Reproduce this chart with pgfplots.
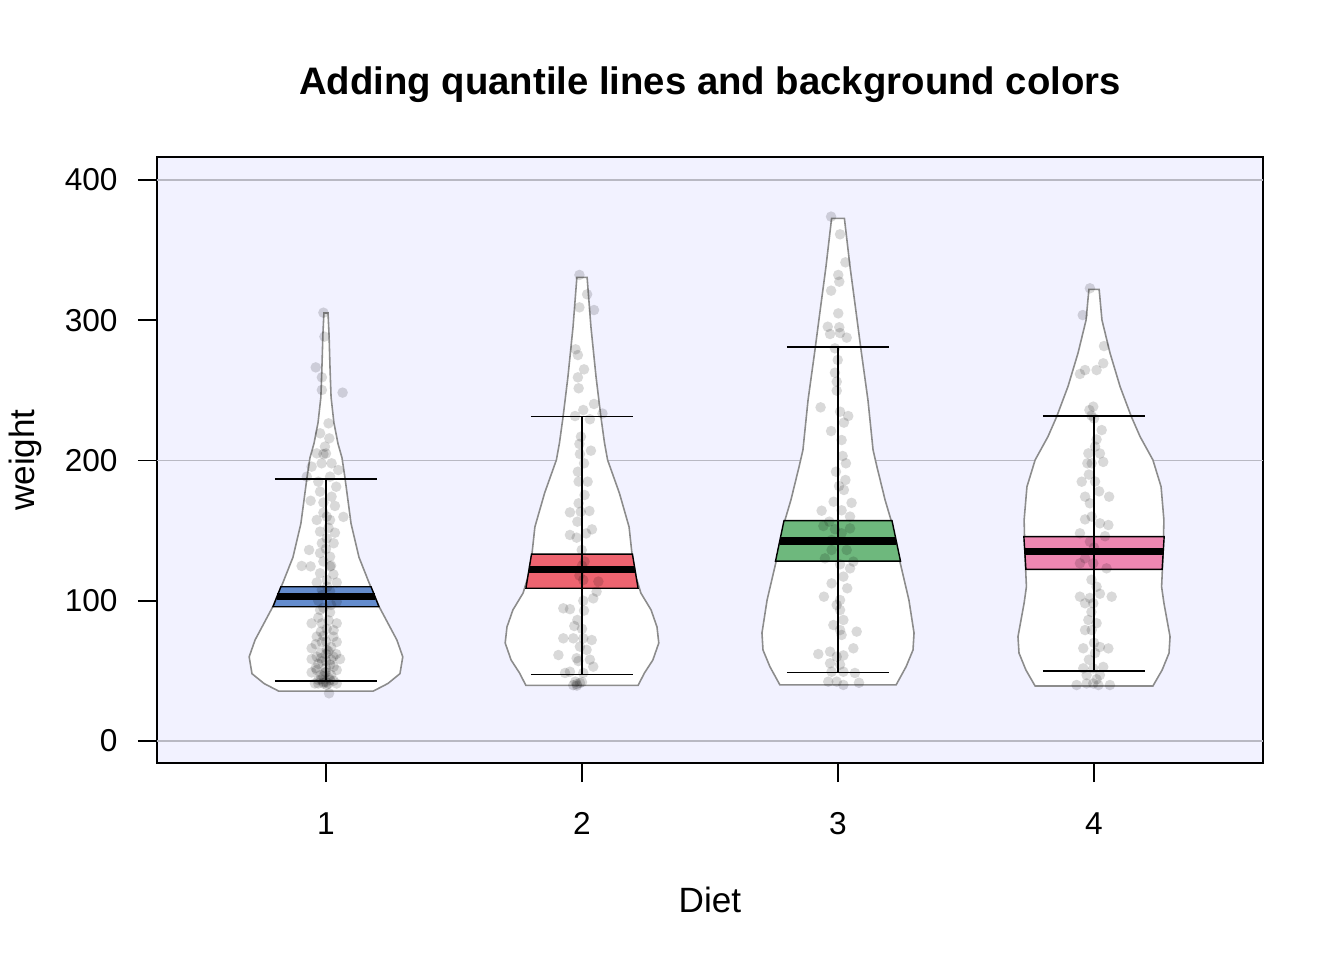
\documentclass[border=0pt]{standalone}
\usepackage{fontspec}
\setmainfont{Liberation Sans}
\usepackage{pgfplots}
\pgfplotsset{compat=1.18}
\definecolor{bgcol}{RGB}{242,242,255}
\definecolor{gridc}{RGB}{185,185,195}
\definecolor{vline}{RGB}{140,140,140}
\definecolor{qblue}{RGB}{100,140,205}
\definecolor{qred}{RGB}{238,100,112}
\definecolor{qgreen}{RGB}{110,184,125}
\definecolor{qpink}{RGB}{238,135,178}

\begin{document}
\begin{tikzpicture}
\useasboundingbox (-1.57cm,-1.97cm) rectangle (11.87cm,7.63cm);
\begin{axis}[
    scale only axis,
    width=11.06cm, height=6.06cm,
    xmin=0.34, xmax=4.66,
    ymin=-15.7, ymax=416.4,
    xtick={1,2,3,4}, ytick={0,100,200,300,400},
    xtick pos=bottom, ytick pos=left,
    tick align=outside, major tick length=0.19cm,
    tick style={black, line width=0.5pt},
    axis line style={black, line width=0.5pt},
    axis background/.style={fill=bgcol},
    /pgf/number format/assume math mode=true,
    ticklabel style={font=\fontsize{9}{10.8}\selectfont},
    xticklabel style={yshift=-0.18cm},
    yticklabel style={xshift=-0.08cm},
    label style={font=\fontsize{9}{10.8}\selectfont},
    xlabel={Diet}, ylabel={weight},
    every axis x label/.style={at={(axis description cs:0.5,-0.226)}, anchor=center},
    every axis y label/.style={at={(axis description cs:-0.119,0.5)}, rotate=90, anchor=center},
    title={Adding quantile lines and background colors},
    every axis title/.style={at={(axis description cs:0.5,1.120)}, anchor=center,
                 font=\fontsize{10.9}{13}\selectfont\bfseries},
  ]

  %% grid lines
  \addplot[gridc, line width=0.4pt] coordinates {(0.34,0) (4.66,0)};
  \addplot[gridc, line width=0.4pt] coordinates {(0.34,200) (4.66,200)};
  \addplot[gridc, line width=0.4pt] coordinates {(0.34,400) (4.66,400)};

  %% violins
  \addplot[fill=white, draw=vline, line width=0.45pt] coordinates {
    (1.008,305.2) (1.012,290) (1.016,265) (1.020,245) (1.031,227) (1.047,212)
    (1.0625,202) (1.074,188) (1.098,155) (1.129,131) (1.168,113) (1.207,96)
    (1.242,84) (1.277,72) (1.300,60) (1.289,48) (1.242,41) (1.184,35.5)
    (0.816,35.5) (0.758,41) (0.711,48) (0.700,60) (0.723,72) (0.758,84)
    (0.793,96) (0.832,113) (0.871,131) (0.902,155) (0.926,188) (0.9375,202)
    (0.953,212) (0.969,227) (0.980,245) (0.984,265) (0.988,290) (0.992,305.2)
  } -- cycle;
  \addplot[fill=white, draw=vline, line width=0.45pt] coordinates {
    (2.020,330.6) (2.035,295.2) (2.055,259.5) (2.074,231) (2.088,212.5) (2.100,200.4)
    (2.146,176.8) (2.184,152.6) (2.195,134) (2.211,117) (2.230,105.5) (2.270,93.4)
    (2.293,81.3) (2.300,69.9) (2.277,57.8) (2.244,48.5) (2.219,39.6)
    (1.781,39.6) (1.756,48.5) (1.723,57.8) (1.700,69.9) (1.707,81.3) (1.730,93.4)
    (1.770,105.5) (1.789,117) (1.805,134) (1.816,152.6) (1.854,176.8) (1.900,200.4)
    (1.912,212.5) (1.926,231) (1.945,259.5) (1.965,295.2) (1.980,330.6)
  } -- cycle;
  \addplot[fill=white, draw=vline, line width=0.45pt] coordinates {
    (3.025,372.7) (3.047,338.2) (3.073,302.5) (3.090,278.8) (3.117,243.1) (3.137,207.5)
    (3.152,195.6) (3.184,171.8) (3.207,157.6) (3.242,127.8) (3.277,100.5) (3.297,77)
    (3.293,64.9) (3.266,53) (3.227,40)
    (2.773,40) (2.734,53) (2.707,64.9) (2.703,77) (2.723,100.5) (2.758,127.8)
    (2.793,157.6) (2.816,171.8) (2.848,195.6) (2.863,207.5) (2.883,243.1) (2.910,278.8)
    (2.927,302.5) (2.953,338.2) (2.975,372.7)
  } -- cycle;
  \addplot[fill=white, draw=vline, line width=0.45pt] coordinates {
    (4.020,322) (4.031,300.2) (4.0625,276.6) (4.102,252.6) (4.146,231.2) (4.180,217)
    (4.230,200.4) (4.262,181.3) (4.273,157.6) (4.270,134) (4.264,110) (4.273,98.4)
    (4.297,74.4) (4.293,62.7) (4.266,50.6) (4.230,39.2)
    (3.770,39.2) (3.734,50.6) (3.707,62.7) (3.703,74.4) (3.727,98.4) (3.736,110)
    (3.730,134) (3.727,157.6) (3.738,181.3) (3.770,200.4) (3.820,217) (3.854,231.2)
    (3.898,252.6) (3.9375,276.6) (3.969,300.2) (3.980,322)
  } -- cycle;

  %% quantile boxes
  \addplot[fill=qblue, draw=black, line width=0.4pt] coordinates {
    (0.824,110) (1.176,110) (1.207,95.7) (0.793,95.7)} -- cycle;
  \addplot[fill=qred, draw=black, line width=0.4pt] coordinates {
    (1.803,133.3) (2.197,133.3) (2.219,108.9) (1.781,108.9)} -- cycle;
  \addplot[fill=qgreen, draw=black, line width=0.4pt] coordinates {
    (2.789,157.1) (3.211,157.1) (3.244,128.3) (2.756,128.3)} -- cycle;
  \addplot[fill=qpink, draw=black, line width=0.4pt] coordinates {
    (3.726,145.7) (4.274,145.7) (4.266,122.4) (3.734,122.4)} -- cycle;

  %% medians
  \addplot[black, line width=2pt] coordinates {(0.808,102.7) (1.192,102.7)};
  \addplot[black, line width=2pt] coordinates {(1.792,122.6) (2.208,122.6)};
  \addplot[black, line width=2pt] coordinates {(2.773,142.6) (3.227,142.6)};
  \addplot[black, line width=2pt] coordinates {(3.730,135) (4.270,135)};

  %% whiskers
  \addplot[black, line width=0.4pt] coordinates {(1,42.8) (1,186.8)};
  \addplot[black, line width=0.4pt] coordinates {(0.8,186.8) (1.2,186.8)};
  \addplot[black, line width=0.4pt] coordinates {(0.8,42.8) (1.2,42.8)};
  \addplot[black, line width=0.4pt] coordinates {(2,47.5) (2,231.3)};
  \addplot[black, line width=0.4pt] coordinates {(1.8,231.3) (2.2,231.3)};
  \addplot[black, line width=0.4pt] coordinates {(1.8,47.5) (2.2,47.5)};
  \addplot[black, line width=0.4pt] coordinates {(3,48.7) (3,280.9)};
  \addplot[black, line width=0.4pt] coordinates {(2.8,280.9) (3.2,280.9)};
  \addplot[black, line width=0.4pt] coordinates {(2.8,48.7) (3.2,48.7)};
  \addplot[black, line width=0.4pt] coordinates {(4,49.9) (4,231.7)};
  \addplot[black, line width=0.4pt] coordinates {(3.8,231.7) (4.2,231.7)};
  \addplot[black, line width=0.4pt] coordinates {(3.8,49.9) (4.2,49.9)};

  %% jittered points
  \pgfplotsset{pts/.style={only marks, mark=*, mark size=1.5pt, black,
      mark options={fill=black, draw opacity=0, fill opacity=0.15}}}
  \addplot[pts] table {
x y
0.99 305.4
0.994 288.3
0.96 266.4
0.984 259.3
0.984 250.3
1.065 248.4
1.01 226.5
0.977 219.4
1.013 215.8
0.996 209.9
0.964 205.1
0.99 204.6
1.022 198
0.983 198
0.944 195.6
1.048 193.2
1.016 188.5
0.925 188.5
0.97 184.9
1.04 181.3
0.977 177.8
1.022 174.2
0.94 171.3
1.035 167.6
0.99 162.8
1.003 160
0.964 157.6
1.068 159.8
1.016 157.6
0.977 149.3
1.035 148.5
1.003 144.5
0.984 141
1.03 141
0.934 136.2
0.977 134
1.016 131.4
0.905 124.8
0.94 124.5
1.016 124.5
0.977 119.6
1.029 118.8
1.003 114.8
0.964 113
1.042 113
0.984 107.7
1.016 106.9
1.042 99.3
0.977 93.4
1.016 91.8
0.944 83.9
0.984 83.9
1.042 83.9
1.003 80
0.964 74.4
1.029 74.4
0.984 70.6
1.042 70.6
0.944 66.1
1.003 65
0.964 60.1
1.029 60.1
1.055 58.4
0.944 58.4
0.984 56.8
1.016 54.4
0.964 50.6
1.042 50.6
0.996 48.9
0.944 48.9
0.97 43.5
1.016 43.5
0.99 42
1.042 41
0.957 41
1.003 40
1.012 34
0.99 95
1.02 97
0.97 88
1.01 86
0.98 78
1.03 79
0.96 69
1.00 71
1.02 67
0.98 63
1.04 62
0.97 55
1.00 57
1.03 53
0.96 52
0.99 46
1.02 47
0.98 44
1.01 45
0.97 41
1.00 42
1.03 43
0.99 41
1.01 41
0.98 47
1.00 52
1.00 62
0.99 75
1.01 64
0.98 59
1.02 58
1.00 49
0.985 104
1.005 110
0.97 100
1.02 125
0.99 128
1.00 137
1.01 152
0.99 170
1.00 205
  };
  \addplot[pts] table {
x y
1.99 332.3
2.02 318.5
2.047 307.3
1.99 309.2
1.975 279.3
1.984 275.2
2.008 265
1.984 259.3
1.987 251.5
2.047 240.3
2.005 236
1.973 231.7
2.031 229.4
2.08 233.5
1.996 217
1.99 211.8
2.035 207
1.992 204.6
2.008 198
1.984 192
2.022 184.9
1.987 185
2.01 175.4
1.987 169.5
1.953 163
1.995 163.5
2.029 164
1.982 156.4
2.039 150.9
1.953 146.9
1.979 145
2.016 148
1.999 136.2
2.005 114.8
2.064 113.7
2.057 106.5
2.044 101.7
2.005 100
1.927 94.6
1.953 94
2.008 93
1.982 86.3
1.927 73.2
1.966 73.2
2.005 73.2
2.038 72
1.992 67.3
2.018 65
1.908 61.3
1.979 59
2.031 58
2.044 53
1.986 57
1.953 49.4
2.005 48.5
1.934 48.5
1.974 42.3
1.98 40.6
1.992 41.4
1.966 39.8
2.00 125
1.99 118
2.01 128
2.00 80
1.97 82
1.98 39.5
2.00 42
  };
  \addplot[pts] table {
x y
2.973 373.9
3.008 361.3
3.029 341.3
3.001 332.3
3.005 327.5
2.973 321.1
3.001 304.9
2.96 295.4
3.005 295
2.969 290.2
3.034 287.6
3.008 290.9
2.988 280
2.999 271.7
2.988 262.6
2.995 256.2
2.995 249.8
2.932 237.9
3.008 234.8
3.04 231.7
3.023 227
2.973 221
3.014 214.6
3.018 203.2
3.031 198
2.992 192
3.029 186.1
3.004 181.8
3.023 179
2.983 170.6
3.053 169.8
2.936 164.2
3.014 164.5
3.047 160
2.966 156.4
2.943 153.3
3.047 151.6
2.988 151
3.014 148.1
2.975 143.3
3.034 136.2
2.975 136.2
2.949 130.2
3.06 127.9
3.008 126
3.047 123.1
3.021 117.2
2.975 112.4
3.036 108.9
2.945 102.9
3.008 100.5
2.995 97
3.008 93.4
3.021 86.3
2.982 82.7
3.008 79.1
3.073 78
3.014 75.6
3.06 66.1
2.969 63.7
2.923 62
2.995 60.1
3.021 61
2.969 55.4
3.008 54.5
2.975 49.4
3.066 48.5
3.021 49.4
2.962 42.3
3.021 40
2.995 42.3
3.082 41.5
  };
  \addplot[pts] table {
x y
3.984 322.8
3.956 303.7
4.039 281.6
4.036 269.3
3.965 264.5
4.01 264.5
3.945 261.7
3.997 238.4
3.982 236
4.03 221.7
4.004 209.9
3.978 205.1
4.023 205
3.991 198
4.036 199
3.974 198
3.952 184.9
4.004 185
4.059 174.2
3.965 174.2
3.984 169.5
3.991 160
3.965 158
4.023 155.2
4.056 154
3.945 148.1
4.043 146
3.984 142.1
3.965 130.3
3.945 126.7
3.997 126.7
4.049 123.1
3.945 102.9
3.984 102
4.023 105
4.069 102.9
3.965 98.2
3.997 98.2
3.978 86.3
4.01 84
3.965 79.1
3.991 79.1
3.958 66.1
4.023 67
4.056 66
4.004 62.7
3.958 51.8
3.997 51.8
4.036 52.8
3.971 47
4.023 47
3.932 39.9
3.971 41
4.017 39.9
4.062 39.9
3.997 41
4.00 230
3.99 232
4.01 215
3.98 190
4.02 178
4.00 138
3.99 115
4.01 110
3.99 92
4.00 70
3.98 58
4.01 44
  };
\end{axis}
\end{tikzpicture}
\end{document}
